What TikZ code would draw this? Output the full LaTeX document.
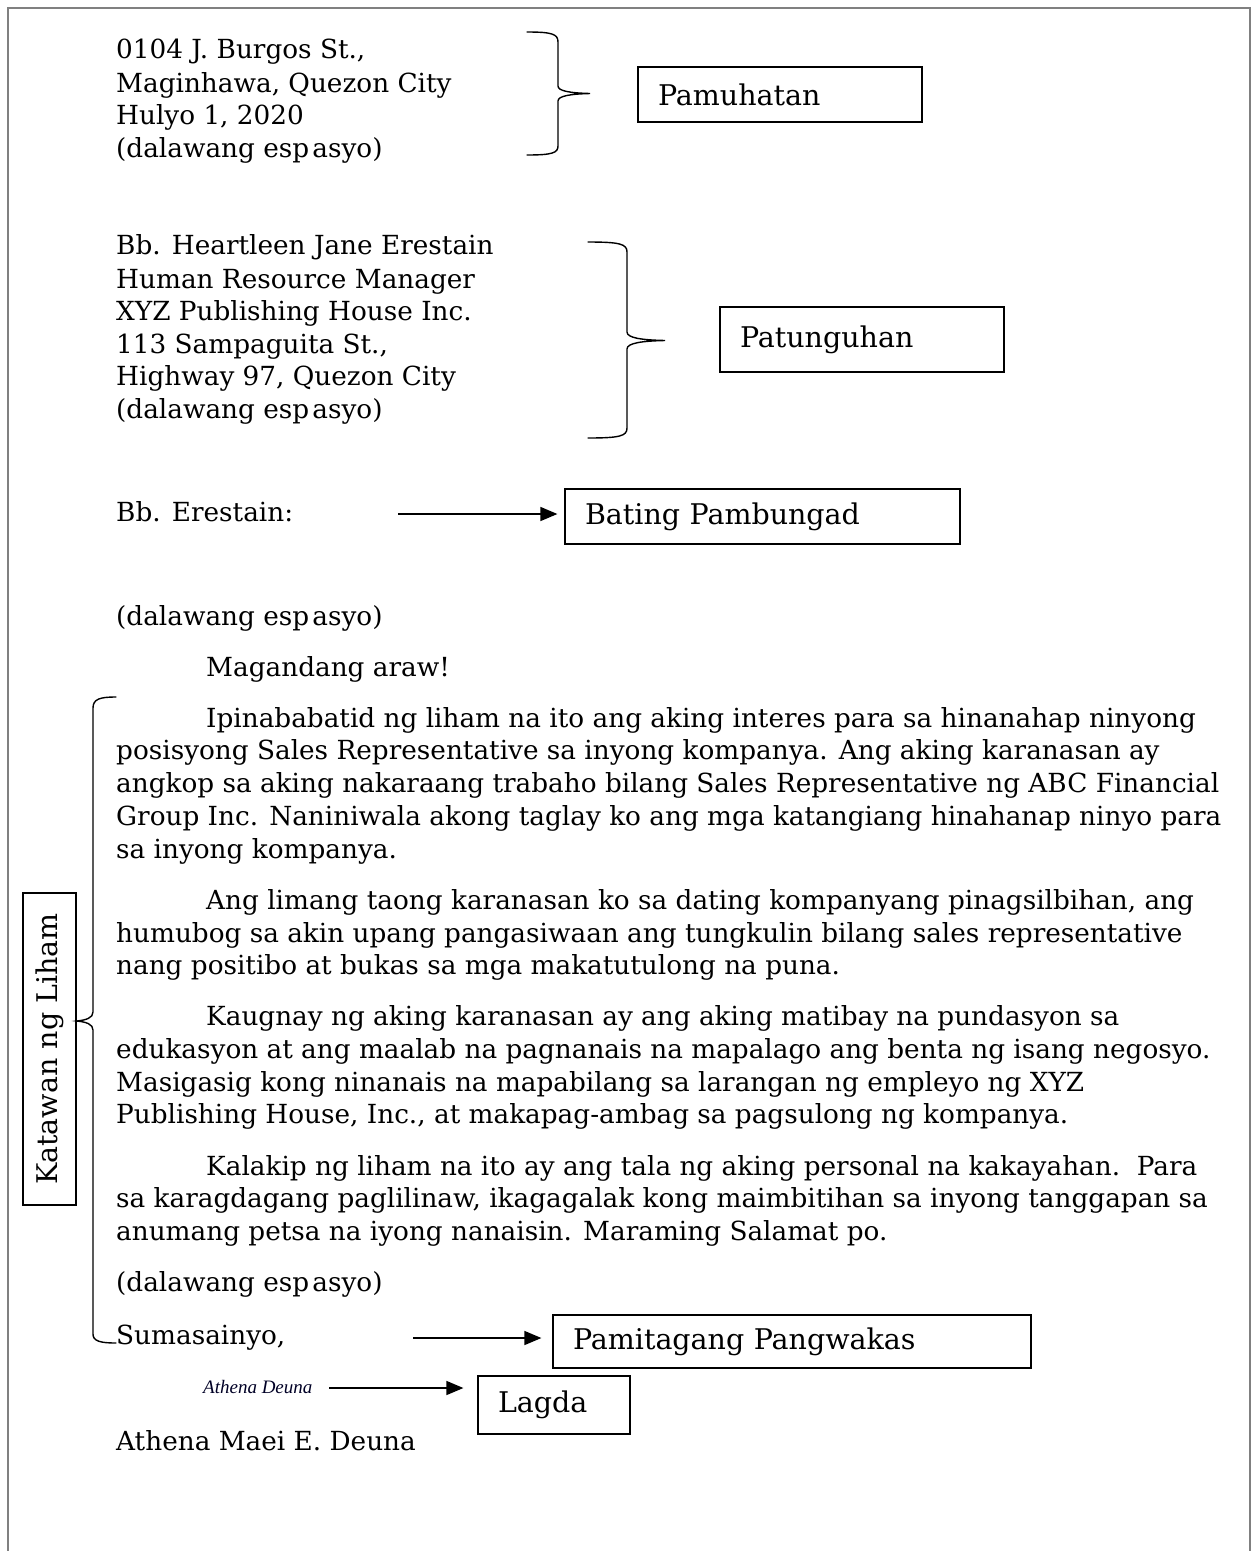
\documentclass[tikz,border=0pt]{standalone}
\usepackage{fontspec}
\usetikzlibrary{arrows.meta}
\newfontfamily\letterfamily{DejaVu Serif}
\newfontfamily\sigfamily{Liberation Serif}
\newcommand{\lettersize}{\letterfamily\fontsize{26.3}{30}\selectfont}
\newcommand{\labelsize}{\letterfamily\fontsize{28.5}{32}\selectfont}
\newcommand{\sigsize}{\sigfamily\itshape\fontsize{19}{22}\selectfont}
\newcommand{\espgap}{esp\hspace{0.12em}asyo}
\tikzset{
  ln/.style={anchor=base west, inner sep=0pt, font=\lettersize},
  lbl/.style={draw, line width=1.2pt, font=\labelsize, align=left, inner xsep=20pt, inner ysep=0pt},
  brace/.style={line width=1.4pt, line cap=round},
  arr/.style={line width=1.4pt, -{Triangle[length=17pt,width=14pt]}},
}
\begin{document}
\begin{tikzpicture}[x=1pt,y=-1pt]
\useasboundingbox (0,0) rectangle (1253,1551);
\fill[white] (0,0) rectangle (1253,1551);
% page border
\draw[line width=2pt, black!50] (8,1551) -- (8,8) -- (1250,8) -- (1250,1551);

% sender address
\node[ln] (t1) at (116,58) {0104 J. Burgos St.,};
\node[ln] (t2) at (116,92) {Maginhawa, Quezon City};
\node[ln] (t3) at (116,124) {Hulyo 1, 2020};
\node[ln] (t4) at (116,157) {(dalawang \espgap)};

% recipient
\node[ln] (r1) at (116,254) {Bb. Heartleen Jane Erestain};
\node[ln] (r2) at (116,288) {Human Resource Manager};
\node[ln] (r3) at (116,320) {XYZ Publishing House Inc.};
\node[ln] (r4) at (116,353) {113 Sampaguita St.,};
\node[ln] (r5) at (116,385) {Highway 97, Quezon City};
\node[ln] (r6) at (116,418) {(dalawang \espgap)};

\node[ln] (g1) at (116,521) {Bb. Erestain:};
\node[ln] (g2) at (116,625) {(dalawang \espgap)};
\node[ln] (g3) at (206,676) {Magandang araw!};

% paragraph 1
\node[ln] (p11) at (206,727) {Ipinababatid ng liham na ito ang aking interes para sa hinanahap ninyong};
\node[ln] (p12) at (116,759) {posisyong Sales Representative sa inyong kompanya. Ang aking karanasan ay};
\node[ln] (p13) at (116,792) {angkop sa aking nakaraang trabaho bilang Sales Representative ng ABC Financial};
\node[ln] (p14) at (116,825) {Group Inc. Naniniwala akong taglay ko ang mga katangiang hinahanap ninyo para};
\node[ln] (p15) at (116,858) {sa inyong kompanya.};
% paragraph 2
\node[ln] (p21) at (206,909) {Ang limang taong karanasan ko sa dating kompanyang pinagsilbihan, ang};
\node[ln] (p22) at (116,942) {humubog sa akin upang pangasiwaan ang tungkulin bilang sales representative};
\node[ln] (p23) at (116,974) {nang positibo at bukas sa mga makatutulong na puna.};
% paragraph 3
\node[ln] (p31) at (206,1025) {Kaugnay ng aking karanasan ay ang aking matibay na pundasyon sa};
\node[ln] (p32) at (116,1058) {edukasyon at ang maalab na pagnanais na mapalago ang benta ng isang negosyo.};
\node[ln] (p33) at (116,1091) {Masigasig kong ninanais na mapabilang sa larangan ng empleyo ng XYZ};
\node[ln] (p34) at (116,1123) {Publishing House, Inc., at makapag-ambag sa pagsulong ng kompanya.};
% paragraph 4
\node[ln] (p41) at (206,1175) {Kalakip ng liham na ito ay ang tala ng aking personal na kakayahan.\ \ Para};
\node[ln] (p42) at (116,1207) {sa karagdagang paglilinaw, ikagagalak kong maimbitihan sa inyong tanggapan sa};
\node[ln] (p43) at (116,1240) {anumang petsa na iyong nanaisin. Maraming Salamat po.};

\node[ln] (c1) at (116,1291) {(dalawang \espgap)};
\node[ln] (c2) at (116,1344) {Sumasainyo,};
\node[anchor=west, inner sep=0pt, font=\sigsize, text=black!85!blue] (sig) at (203,1387) {Athena Deuna};
\node[ln] (c3) at (116,1450) {Athena Maei E. Deuna};

% label boxes
\node[lbl, text width=244pt, minimum height=55pt] (b1) at (780,94.5) {Pamuhatan};
\node[lbl, text width=244pt, minimum height=65pt] (b2) at (862,339.5) {Patunguhan};
\node[lbl, text width=355pt, minimum height=55pt] (b3) at (762.5,516.5) {Bating Pambungad};
\node[lbl, text width=438pt, minimum height=53pt] (b4) at (792,1341.5) {Pamitagang Pangwakas};
\node[lbl, text width=112pt, minimum height=58pt] (b5) at (554,1405) {Lagda};
\node[draw, line width=1.2pt, font=\labelsize, rotate=90, inner sep=0pt, minimum width=312pt, minimum height=53pt] (b6) at (49.5,1049) {Katawan ng Liham};

% braces
\draw[brace] (527,32) .. controls (552,32) and (558,34) .. (558,42) -- (558,86)
  .. controls (558,91) and (570,93) .. (590,93.5)
  .. controls (570,94) and (558,96) .. (558,101) -- (558,146)
  .. controls (558,153) and (552,155) .. (527,155);
\draw[brace] (588,242) .. controls (620,242) and (627,244) .. (627,252) -- (627,332)
  .. controls (627,338) and (642,340) .. (665,340.5)
  .. controls (642,341) and (627,343) .. (627,349) -- (627,428)
  .. controls (627,436) and (620,438) .. (588,438);
\draw[brace] (116,697) .. controls (100,697) and (93,699) .. (93,708) -- (93,1012)
  .. controls (93,1018) and (86,1020) .. (77,1021)
  .. controls (86,1022) and (93,1024) .. (93,1030) -- (93,1334)
  .. controls (93,1341) and (100,1343) .. (116,1343);

% arrows
\coordinate (s1) at (398,514);
\coordinate (s2) at (413,1338);
\coordinate (s3) at (329,1388);
\draw[arr, shorten >=7pt] (s1) -- (s1 -| b3.west);
\draw[arr, shorten >=11pt] (s2) -- (s2 -| b4.west);
\draw[arr, shorten >=14pt] (s3) -- (s3 -| b5.west);
\end{tikzpicture}
\end{document}
